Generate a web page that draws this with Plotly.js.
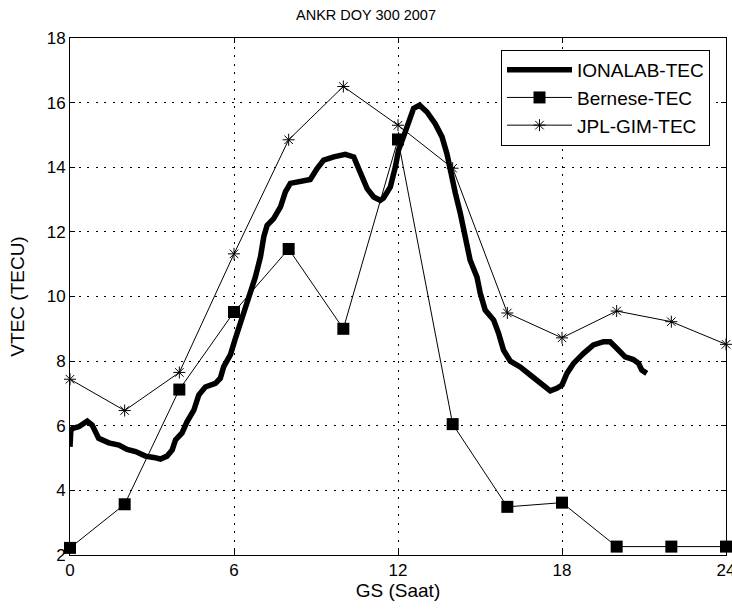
<!DOCTYPE html>
<html>
<head>
<meta charset="utf-8">
<script src="https://cdn.plot.ly/plotly-3.0.1.min.js"></script>
<style>html,body{margin:0;padding:0;background:#fff;}#chart{width:732px;height:611px;}</style>
</head>
<body>
<div id="chart"></div>
<script>
// IONALAB-TEC (thick line)
const ionHours = [0,0.03,0.1,0.32,0.63,0.81,1.05,1.42,1.79,2.09,2.4,2.76,3.06,3.31,3.55,3.74,3.86,4.1,4.28,4.53,4.71,4.95,5.32,5.5,5.62,5.75,5.87,6.05,6.24,6.42,6.6,6.78,6.97,7.09,7.21,7.45,7.7,7.88,8.06,8.43,8.79,9.04,9.28,9.65,10.07,10.38,10.62,10.87,11.11,11.35,11.47,11.72,11.9,12.02,12.2,12.39,12.57,12.79,13.06,13.36,13.61,13.79,13.91,14.1,14.28,14.46,14.64,14.89,15.01,15.19,15.5,15.68,15.86,16.11,16.47,16.84,17.2,17.57,17.81,18.0,18.18,18.42,18.79,19.15,19.52,19.76,20.01,20.31,20.61,20.8,20.92,21.1];
const ionTec = [5.35,5.85,5.92,5.97,6.14,6.02,5.61,5.47,5.40,5.27,5.20,5.06,5.02,4.97,5.06,5.25,5.56,5.78,6.12,6.48,6.95,7.2,7.31,7.47,7.82,8.0,8.2,8.7,9.17,9.58,10.1,10.6,11.23,11.85,12.2,12.41,12.77,13.24,13.5,13.55,13.62,13.96,14.22,14.32,14.4,14.32,13.8,13.34,13.08,12.98,13.05,13.39,14.0,14.53,14.94,15.45,15.82,15.92,15.71,15.35,14.94,14.42,13.91,13.19,12.57,11.85,11.12,10.6,10.1,9.58,9.27,8.86,8.34,8.0,7.82,7.57,7.31,7.08,7.16,7.26,7.62,7.93,8.24,8.5,8.6,8.6,8.39,8.13,8.05,7.93,7.72,7.62];

// Bernese-TEC and JPL-GIM-TEC, every 2 hours
const twoHourly = [0,2,4,6,8,10,12,14,16,18,20,22,24];
const berneseTec = [2.22,3.57,7.12,9.52,11.47,9.0,14.86,6.05,3.49,3.62,2.26,2.26,2.26];
const jplTec = [7.44,6.47,7.65,11.32,14.85,16.5,15.3,13.97,9.49,8.72,9.55,9.22,8.52];

const xTicks = [0,6,12,18,24];
const yTicks = [2,4,6,8,10,12,14,16,18];

const fam = 'Arial, "Liberation Sans", sans-serif';
const tickFont = {family: fam, size: 17, color: '#000'};
const labelFont = {family: fam, size: 19, color: '#000'};
const legendFont = {family: fam, size: 19, color: '#000'};
const titleFont = {family: fam, size: 14.5, color: '#000'};

const traces = [
  {x: ionHours, y: ionTec, name: 'IONALAB-TEC', type: 'scatter', mode: 'lines',
   line: {color: '#000', width: 5.5}},
  {x: twoHourly, y: berneseTec, name: 'Bernese-TEC', type: 'scatter', mode: 'lines+markers',
   line: {color: '#000', width: 1}, marker: {symbol: 'square', size: 12, color: '#000'}, cliponaxis: false},
  {x: twoHourly, y: jplTec, name: 'JPL-GIM-TEC', type: 'scatter', mode: 'lines+markers',
   line: {color: '#000', width: 1}, marker: {symbol: 'asterisk-open', size: 10, color: '#000', line: {color: '#000', width: 1}}, cliponaxis: false}
];

const axisCommon = {
  showline: true, linecolor: '#000', linewidth: 1, mirror: 'ticks',
  ticks: 'inside', ticklen: 5, tickcolor: '#000',
  showgrid: true, gridcolor: '#000', griddash: '2px,6.5px', gridwidth: 1,
  zeroline: false, tickfont: tickFont, ticklabeloverflow: 'allow'
};

const layout = {
  width: 732, height: 611,
  paper_bgcolor: '#fff', plot_bgcolor: '#fff',
  margin: {l: 70, r: 6, t: 38, b: 56},
  font: tickFont,
  title: {text: 'ANKR DOY 300 2007', font: titleFont, x: 0.5, xanchor: 'center', y: 0.975, yanchor: 'middle'},
  xaxis: Object.assign({}, axisCommon, {range: [0, 24], tickvals: xTicks, ticktext: xTicks.map(String),
    title: {text: 'GS (Saat)', font: labelFont, standoff: 3}}),
  yaxis: Object.assign({}, axisCommon, {range: [2, 18], tickvals: yTicks, ticktext: yTicks.map(String),
    title: {text: 'VTEC (TECU)', font: labelFont, standoff: 17}}),
  showlegend: true,
  legend: {x: 0.657, y: 0.977, xanchor: 'left', yanchor: 'top', bgcolor: '#fff',
    bordercolor: '#000', borderwidth: 1, font: legendFont, itemwidth: 65, tracegroupgap: 0}
};

Plotly.newPlot('chart', traces, layout, {staticPlot: true, displayModeBar: false});
</script>
</body>
</html>
